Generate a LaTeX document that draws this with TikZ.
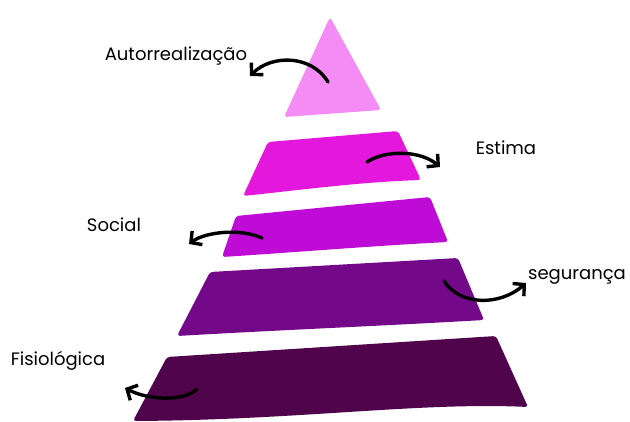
\documentclass[tikz,border=0pt]{standalone}
\usepackage{fontspec}
\setmainfont{Poppins}
\usetikzlibrary{arrows.meta}
\definecolor{corTopo}{HTML}{F58CF5}
\definecolor{corEstima}{HTML}{E318DC}
\definecolor{corSocial}{HTML}{BE0BD5}
\definecolor{corSeg}{HTML}{730889}
\definecolor{corFisio}{HTML}{50044B}

\begin{document}
\begin{tikzpicture}[x=1pt,y=-1pt,
  nivel/.style={rounded corners=3pt},
  seta/.style={line width=3.4pt,line cap=round,-{Straight Barb[length=8pt,width=17pt]}},
  rotulo/.style={font=\fontsize{18}{20}\selectfont}]
  \useasboundingbox (0,0) rectangle (630,421);
  \fill[nivel,corTopo] (330,17) -- (381,110) -- (284,117) -- cycle;
  \fill[nivel,corEstima] (268,142) -- (398,131) -- (421,180) .. controls (360,182) and (300,190) .. (243,196) -- cycle;
  \fill[nivel,corSocial] (236,216) -- (430,197) -- (448,242) .. controls (370,246) and (300,252) .. (222,257) -- cycle;
  \fill[nivel,corSeg] (210,272) -- (458,258) -- (484,320) .. controls (380,326) and (280,330) .. (177,336) -- cycle;
  \fill[nivel,corFisio] (167,357) -- (496,336) -- (528,407) .. controls (420,402) and (300,420) .. (133,421) -- cycle;
  \node[rotulo] (autorr) at (176,56) {Autorrealização};
  \node[rotulo] (estima) at (506,148) {Estima};
  \node[rotulo] (social) at (114,225) {Social};
  \node[rotulo] (seguranca) at (577,277) {segurança};
  \node[rotulo] (fisio) at (58,361) {Fisiológica};
  \coordinate (a1) at (328,82);  \coordinate (a2) at (250,76);
  \coordinate (e1) at (367,162); \coordinate (e2) at (440,167);
  \coordinate (s1) at (262,238); \coordinate (s2) at (189,244);
  \coordinate (g1) at (444,281); \coordinate (g2) at (526,283);
  \coordinate (f1) at (197,389); \coordinate (f2) at (125,388);
  \draw[seta] (a1) .. controls (312,55) and (272,54) .. (a2);
  \draw[seta] (e1) .. controls (385,150) and (420,150) .. (e2);
  \draw[seta] (s1) .. controls (240,228) and (205,232) .. (s2);
  \draw[seta] (g1) .. controls (460,306) and (500,306) .. (g2);
  \draw[seta] (f1) .. controls (185,401) and (150,401) .. (f2);
\end{tikzpicture}
\end{document}
